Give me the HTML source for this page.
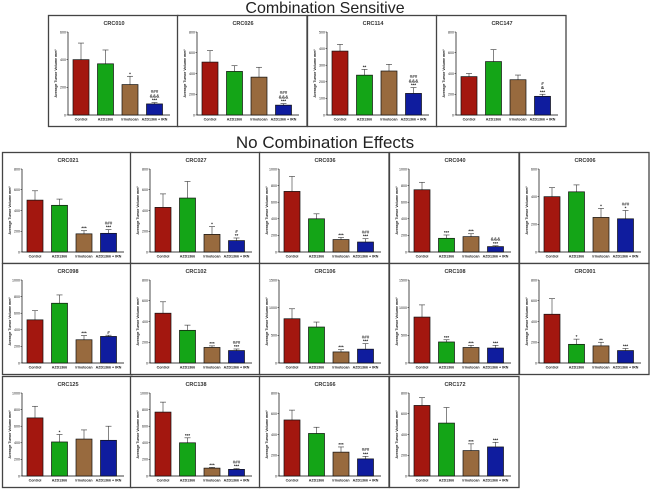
<!DOCTYPE html>
<html><head><meta charset="utf-8"><style>
html,body{margin:0;padding:0;background:#fff;}
svg{display:block;font-family:"Liberation Sans",Arial,sans-serif;}
</style></head><body>
<svg id="fig" width="650" height="489" viewBox="0 0 650 489">
</svg>
<script>
const categories=["Control","AZD1366","Irinotecan","AZD1366 + IRN"];
const colors=["#a3170f","#14a517","#986a3e","#0f1c9e"];
const panelNames=["CRC010","CRC026","CRC114","CRC147","CRC021","CRC027","CRC036","CRC040","CRC006","CRC098","CRC102","CRC106","CRC108","CRC001","CRC125","CRC138","CRC166","CRC172"];
const panelMax=[600,800,500,800,800,800,1000,1000,600,1000,800,1500,1500,800,1000,1000,800,800];
const panelStep=[200,200,100,200,200,200,200,200,200,200,200,500,500,200,200,200,200,200];
const means=[[400,370,220,80],[510,420,365,95],[385,240,265,130],[370,515,340,180],[500,450,175,180],[430,520,170,110],[730,400,150,120],[750,165,185,65],[400,435,250,240],[520,720,280,320],[480,315,150,120],[800,650,200,250],[830,380,280,270],[470,180,165,120],[700,410,445,430],[770,400,95,80],[540,410,230,165],[680,510,245,280]];
const errTops=[[520,470,280,90],[620,475,460,110],[425,275,305,165],[400,630,385,200],[590,510,205,215],[560,680,245,135],[910,460,175,160],[840,205,220,75],[465,485,315,300],[630,820,330,335],[590,365,165,135],[980,740,240,350],[1050,420,320,320],[620,230,200,140],[840,500,555,600],[890,460,105,90],[635,470,280,190],[755,660,310,325]];
const notes=[["","","*","###|&&&|***"],["","","","###|&&&|***"],["","**","","###|&&&|***"],["","","","#|&|***"],["","","***","###|***"],["","","*","#|**"],["","","***","###|***"],["","***","***","&&&|***"],["","","*","###|*"],["","","***","#"],["","","***","###|***"],["","","***","###|***"],["","***","***","***"],["","*","**","***"],["","*","",""],["","***","***","###|***"],["","","***","###|***"],["","","***","***"]];
const boxes=[[48,15],[177,15],[307,15],[436,15],
[2,152],[130,152],[259,152],[389,152],[519,152],
[2,263],[130,263],[259,263],[389,263],[519,263],
[2,376],[130,376],[259,376],[389,376]];
const NS="http://www.w3.org/2000/svg";
const svg=document.getElementById('fig');
function mk(tag,attrs,parent){const e=document.createElementNS(NS,tag);for(const k in attrs)e.setAttribute(k,attrs[k]);parent.appendChild(e);return e;}
panelNames.forEach((name,p)=>{
  const [px,py]=boxes[p];
  const g=mk('g',{},svg);
  
  
  const r=mk('rect',{x:px+0.5,y:py+0.5,width:129.5,height:111,fill:'#fff',stroke:'#444','stroke-width':1.3},g);
  
  
  const t=mk('text',{x:px+66,y:py+10,'text-anchor':'middle','font-size':5.5,'font-weight':'bold',fill:'#333'},g);
  t.textContent=name;
  
  
  const ax=px+20, top=py+17, bot=py+100, max=panelMax[p];
  const yS=v=>bot-(v/max)*(bot-top);
  const xS=i=>px+33+i*24.5;
  mk('line',{x1:ax,y1:top,x2:ax,y2:bot,stroke:'#000','stroke-width':0.7},g);
  mk('line',{x1:ax,y1:bot,x2:px+122,y2:bot,stroke:'#000','stroke-width':0.7},g);
  for(let v=0;v<=max;v+=panelStep[p]){
    mk('line',{x1:ax-1.5,y1:yS(v),x2:ax,y2:yS(v),stroke:'#000','stroke-width':0.5},g);
    const tl=mk('text',{x:ax-2,y:yS(v)+1.3,'text-anchor':'end','font-size':3.6,fill:'#222'},g);
    tl.textContent=v;
    
    
  }
  const yl=mk('text',{transform:`translate(${px+9},${(top+bot)/2}) rotate(-90)`,'text-anchor':'middle','font-size':3.6,'font-weight':'bold',fill:'#222'},g);
  yl.textContent='Average Tumor Volume mm³';
  
  
  categories.forEach((c,i)=>{
    const cx=xS(i), yt=yS(means[p][i]), ye=yS(errTops[p][i]);
    mk('line',{x1:cx,y1:ye,x2:cx,y2:yt,stroke:'#333','stroke-width':0.6},g);
    mk('line',{x1:cx-3,y1:ye,x2:cx+3,y2:ye,stroke:'#333','stroke-width':0.6},g);
    const b=mk('rect',{x:cx-8,y:yt,width:16,height:bot-yt,fill:colors[i],stroke:'#111','stroke-width':0.7},g);
    
    
    const cl=mk('text',{x:cx,y:bot+5.5,'text-anchor':'middle','font-size':3.6,'font-weight':'bold',fill:'#222'},g);
    cl.textContent=c;
    
    
    if(notes[p][i]){
      const lines=notes[p][i].split('|');
      lines.forEach((s,k)=>{
        const n=mk('text',{x:cx,y:ye-1-(lines.length-1-k)*4.2,'text-anchor':'middle','font-size':4.5,'font-weight':'bold',fill:'#222'},g);
        n.textContent=s;
        
        
      });
    }
  });
});
const t1=mk('text',{x:325,y:13,'text-anchor':'middle','font-size':16,fill:'#222'},svg);
t1.textContent='Combination Sensitive';


const t2=mk('text',{x:325,y:148,'text-anchor':'middle','font-size':17,fill:'#222'},svg);
t2.textContent='No Combination Effects';


</script>
</body></html>
